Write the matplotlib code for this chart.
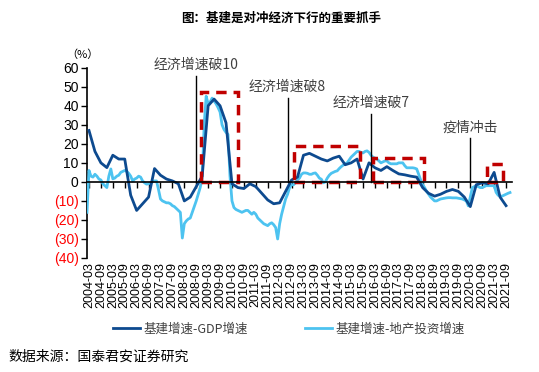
import matplotlib.pyplot as plt
from matplotlib.patches import Rectangle

plt.rcParams['font.family'] = ['Noto Sans CJK SC', 'DejaVu Sans']

tick_labels = [f'{y}-{m}' for y in range(2004, 2022) for m in ('03', '09')]

# 基建增速-GDP增速, quarterly, 2004-03 .. 2021-09 (%)
gdp_gap = [27, 16, 10, 7.5, 14, 12, 12, -7, -15, -11.5,
           -8, 7, 3.5, 1.5, 0.5, -1, -10, -8, -2.5, 3,
           40, 43.5, 40, 31, -1, -3, -3.5, -1, -2.5, -6,
           -9.5, -11.5, -11, -5, 1, 2.5, 14, 15, 13.5, 12,
           11, 12.5, 13.5, 9, 10, 12, 1.5, 10, 7.4, 6,
           8, 6, 4.2, 3.7, 3, 2.5, -3, -6, -7.5, -6.5,
           -5, -4, -5, -8, -13, -1.5, -0.5, -1, 5, -8,
           -12.5]

# 基建增速-地产投资增速, monthly, 2004-02 .. 2021-11 (%)
estate_gap = [
    -16, 6, 3, 2.5, 4, 3, 1.5, 1, -1, -2, -3,                      # 2004
    3, 6.8, 1.6, 2, 3, 3.5, 5, 5.5, 6, 5.5, 4.5, 3,                 # 2005
    0.5, 1.5, 2, 3, 2.5, 0.5, -0.5, -1.2, -1, -0.5, 0, 0.5,         # 2006
    0.5, -4, -9, -10, -10.5, -11, -11, -11.5, -12.5, -13, -14, -15,  # 2007
    -16, -29.5, -22, -20.5, -19.5, -19, -16, -13, -10, -6.5, -3, 2,  # 2008
    30, 45, 41, 42, 44, 42.5, 41, 39, 36.7, 30, 27.5, 26,            # 2009
    25, 3, -10, -13.5, -14.5, -15, -15.5, -16, -15.5, -15, -15, -16,  # 2010
    -17, -16, -17, -19, -20, -21, -22, -22.5, -23, -22, -21.5, -22.5,  # 2011
    -24, -30, -22, -17, -13, -9, -6.5, -3, -1.5, -1.5, -0.5, 1,      # 2012
    2, 4, 4.7, 4.7, 4.5, 4, 4, 4.5, 4.7, 3.5, 2, 1.4,                # 2013
    -0.5, 0, 2, 3.5, 4.5, 5, 5.5, 5.8, 7, 8, 8.8, 9.5,               # 2014
    10, 11.5, 13, 14, 15, 16, 16, 15.5, 15.2, 16, 16.3, 15.5,        # 2015
    14, 13, 12.5, 12, 11, 10, 10.5, 11, 11, 10, 9.5, 9.5,            # 2016
    9.5, 9.5, 10, 10, 10, 8.5, 7.4, 7.4, 7.4, 7.4, 7.2, 6.8,         # 2017
    4, 1, -1.5, -3, -5, -6.5, -8, -9, -10, -10, -9.5, -9,            # 2018
    -8.8, -8.6, -8.4, -8.3, -8.3, -8.4, -8.4, -8.4, -8.6, -8.8, -9, -9.5,  # 2019
    -10, -12.6, -8, -3, -2.5, -2, -2.5, -3, -3, -2.5, -2, -2,        # 2020
    -2, -2, -2, -5.5, -7, -7.5, -7.5, -7, -6.5, -6, -5.6,            # 2021
]

# (label, month index from 2004-03, line top, text y)
events = [('经济增速破10', 54, 55.5, 61.5),
          ('经济增速破8', 100, 44, 50),
          ('经济增速破7', 142, 35.5, 41.5),
          ('疫情冲击', 192, 23, 28.5)]

# (start month, end month, top)
boxes = [(56.4, 74.9, 47), (103.4, 136.5, 18.9),
         (143, 168.7, 12.8), (200.6, 208.6, 9.6)]

dark = '#0D4A8F'
light = '#4DC3F0'

fig = plt.figure(figsize=(5.39, 3.72), dpi=100)
ax = fig.add_axes([87 / 539, 1 - 258 / 372, (512 - 87) / 539, (258 - 67.7) / 372])

x_dark = [3 * i for i in range(len(gdp_gap))]
x_light = list(range(-1, len(estate_gap) - 1))

l2, = ax.plot(x_light, estate_gap, color=light, lw=2, zorder=3,
              label='基建增速-地产投资增速')
l1, = ax.plot(x_dark, gdp_gap, color=dark, lw=2, zorder=4,
              label='基建增速-GDP增速')

for name, m, top, ty in events:
    ax.plot([m, m], [0, top], color='black', lw=1, zorder=5, clip_on=False)
    ax.text(m, ty, name, ha='center', va='center', fontsize=10,
            color='#404040', clip_on=False)

for x0, x1, top in boxes:
    ax.add_patch(Rectangle((x0, 0), x1 - x0, top, fill=False, ec='#C00000',
                           lw=2.5, ls=(0, (3, 2)), zorder=6))

ax.set_xlim(-1, 213)
ax.set_ylim(-40, 60)

for s in ('top', 'right'):
    ax.spines[s].set_visible(False)
ax.spines['bottom'].set_position(('data', 0))
ax.spines['bottom'].set_zorder(7)
ax.spines['bottom'].set_linewidth(1.2)
ax.spines['left'].set_linewidth(1.2)

ax.set_xticks(range(0, 211, 6))
ax.tick_params(axis='x', direction='out', length=4, width=1, labelbottom=False)
for m, lab in zip(range(0, 211, 6), tick_labels):
    ax.text(m, -42.3, lab, rotation=90, ha='center', va='top', fontsize=9,
            family='Liberation Sans')

yt = list(range(-40, 61, 10))
ax.set_yticks(yt)
ax.set_yticklabels([f'({-v})' if v < 0 else str(v) for v in yt],
                   family='Liberation Sans', fontsize=10)
for t, v in zip(ax.get_yticklabels(), yt):
    if v < 0:
        t.set_color('#FF0000')
ax.tick_params(axis='y', direction='out', length=4, width=1, pad=2)

fig.text(82 / 539, 1 - 55 / 372, '（%）', ha='center', va='center', fontsize=8)
fig.text(281 / 539, 1 - 18 / 372, '图：基建是对冲经济下行的重要抓手',
         ha='center', va='center', fontsize=9, weight='bold')
fig.text(8 / 539, 1 - 357 / 372, '数据来源：国泰君安证券研究',
         ha='left', va='center', fontsize=10)

fig.legend(handles=[l1, l2], loc='center', bbox_to_anchor=(0.536, 1 - 329 / 372),
           ncol=2, frameon=False, fontsize=9, handlelength=2.2,
           handletextpad=0.3, columnspacing=4.5, labelcolor='#404040')

fig.savefig('out.png', dpi=100)
